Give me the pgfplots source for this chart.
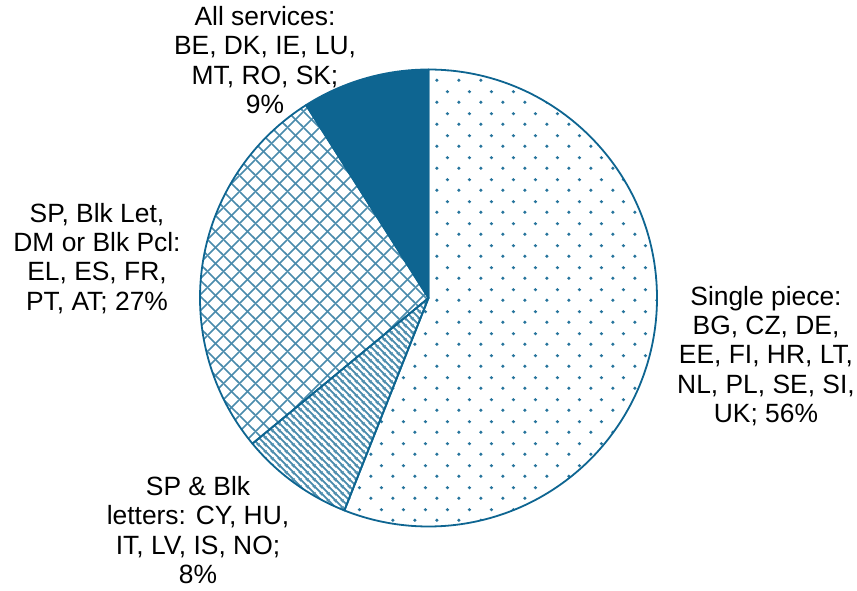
\documentclass[border=0pt]{standalone}
\usepackage{fontspec}
\setmainfont{Liberation Sans}
\usepackage{pgfplots}
\pgfplotsset{compat=1.18}
\usepackage{pgfplotstable}
\usetikzlibrary{patterns.meta}
\definecolor{pieblue}{RGB}{14,101,145}

\tikzdeclarepattern{
  name=piedots, type=uncolored,
  bounding box={(0pt,0pt) and (21.5pt,22pt)},
  tile size={(21.5pt,22pt)},
  code={\fill (5pt,5pt) circle[radius=1.8pt]; \fill (15.75pt,16pt) circle[radius=1.8pt];}
}
\tikzdeclarepattern{
  name=piehatch, type=uncolored,
  bounding box={(0pt,0pt) and (16pt,16pt)},
  tile size={(16pt,16pt)},
  code={\draw[line width=1.7pt] (-2pt,-2pt) -- (18pt,18pt); \draw[line width=1.7pt] (-2pt,18pt) -- (18pt,-2pt);}
}
\tikzdeclarepattern{
  name=piestripes, type=uncolored,
  bounding box={(0pt,0pt) and (7pt,7pt)},
  tile size={(7pt,7pt)},
  code={\draw[line width=1.9pt] (-7pt,7pt) -- (7pt,-7pt); \draw[line width=1.9pt] (-1pt,8pt) -- (8pt,-1pt); \draw[line width=1.9pt] (-1pt,15pt) -- (15pt,-1pt);}
}

\pgfplotstableread{
label value
single 56
spblk 8
spdm 27
all 9
}\piedata

\begin{document}
\begin{tikzpicture}
\pgfplotstablegetelem{0}{value}\of\piedata \pgfmathsetmacro\vA{\pgfplotsretval}
\pgfplotstablegetelem{1}{value}\of\piedata \pgfmathsetmacro\vB{\pgfplotsretval}
\pgfplotstablegetelem{2}{value}\of\piedata \pgfmathsetmacro\vC{\pgfplotsretval}
\pgfplotstablegetelem{3}{value}\of\piedata \pgfmathsetmacro\vD{\pgfplotsretval}
\pgfmathsetmacro\aA{90-3.6*\vA}
\pgfmathsetmacro\aB{\aA-3.6*\vB}
\pgfmathsetmacro\aC{\aB-3.6*\vC}
\pgfmathsetmacro\aD{\aC-3.6*\vD}
\begin{axis}[hide axis, scale only axis, width=857pt, height=590pt,
  xmin=0, xmax=857, ymin=0, ymax=590, clip=false]
\addplot[draw=none] coordinates {(0,0) (857,590)};
\fill[pattern={piedots}, pattern color=pieblue!90] (axis cs:428.5,292) -- ++(90:228.5pt) arc[start angle=90, end angle=\aA, radius=228.5pt] -- cycle;
\fill[pattern={piestripes}, pattern color=pieblue!75] (axis cs:428.5,292) -- ++(\aA:228.5pt) arc[start angle=\aA, end angle=\aB, radius=228.5pt] -- cycle;
\fill[pattern={piehatch}, pattern color=pieblue!75] (axis cs:428.5,292) -- ++(\aB:228.5pt) arc[start angle=\aB, end angle=\aC, radius=228.5pt] -- cycle;
\fill[pieblue] (axis cs:428.5,292) -- ++(\aC:228.5pt) arc[start angle=\aC, end angle=\aD, radius=228.5pt] -- cycle;
\draw[pieblue, line width=1.8pt, line join=round] (axis cs:428.5,292) -- ++(90:228.5pt) arc[start angle=90, end angle=\aA, radius=228.5pt] -- cycle;
\draw[pieblue, line width=1.8pt, line join=round] (axis cs:428.5,292) -- ++(\aA:228.5pt) arc[start angle=\aA, end angle=\aB, radius=228.5pt] -- cycle;
\draw[pieblue, line width=1.8pt, line join=round] (axis cs:428.5,292) -- ++(\aB:228.5pt) arc[start angle=\aB, end angle=\aC, radius=228.5pt] -- cycle;
\draw[pieblue, line width=1.8pt, line join=round] (axis cs:428.5,292) -- ++(\aC:228.5pt) arc[start angle=\aC, end angle=\aD, radius=228.5pt] -- cycle;
\tikzset{lbl/.style={align=center, inner sep=0pt, font=\fontsize{26.4}{29.2}\selectfont}}
\node[lbl] at (axis cs:766,234) {Single piece:\\BG, CZ, DE,\\EE, FI, HR, LT,\\NL, PL, SE, SI,\\UK; 56\%};
\node[lbl] at (axis cs:198,60) {SP \& Blk\\letters: CY, HU,\\IT, LV, IS, NO;\\8\%};
\node[lbl] at (axis cs:97,331.5) {SP, Blk Let,\\DM or Blk Pcl:\\EL, ES, FR,\\PT, AT; 27\%};
\node[lbl] at (axis cs:265,530) {All services:\\BE, DK, IE, LU,\\MT, RO, SK;\\9\%};
\end{axis}
\end{tikzpicture}
\end{document}
